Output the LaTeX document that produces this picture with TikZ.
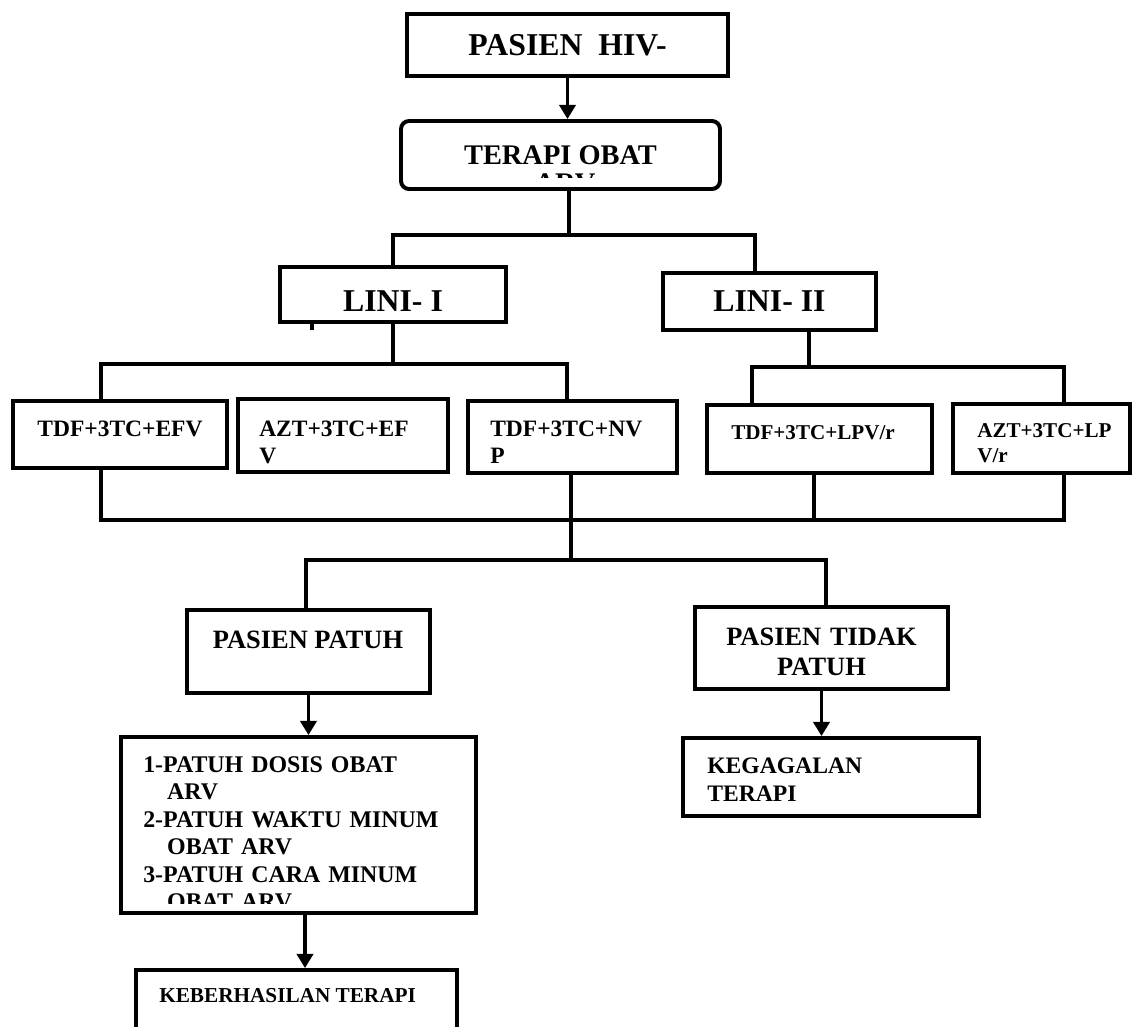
\documentclass[tikz,border=0pt]{standalone}
\usepackage{fontspec}
\setmainfont{Liberation Serif}
\usetikzlibrary{positioning, arrows.meta}
\newcommand{\pxl}{0.025cm}

\begin{document}
\begin{tikzpicture}[
    x=0.025cm, y=-0.025cm,
    box/.style={rectangle, draw=black, line width=2.8pt, inner sep=0pt},
    conn/.style={line width=2.3pt},
    arrow/.style={-{Triangle[length=10pt, width=11.5pt]}, line width=2.3pt},
    headfont/.style={font=\fontsize{22.6}{27}\selectfont\bfseries},
    obatfont/.style={font=\fontsize{20.2}{21.5}\selectfont\bfseries},
    drugfont/.style={font=\fontsize{16.7}{19.2}\selectfont\bfseries},
    smallfont/.style={font=\fontsize{15}{18.1}\selectfont\bfseries},
    patuhfont/.style={font=\fontsize{18.8}{22}\selectfont\bfseries},
    itemfont/.style={font=\fontsize{17}{19.6}\selectfont\bfseries},
    gagalfont/.style={font=\fontsize{16.8}{20.6}\selectfont\bfseries},
    hasilfont/.style={font=\fontsize{15.1}{18}\selectfont\bfseries}
]

    \useasboundingbox (0,0) rectangle (1133,1027);
    \clip (0,0) rectangle (1133,1027);

    % Top
    \node[box, headfont, minimum width=321*\pxl, minimum height=62*\pxl] (hiv) at (567.5,45) {PASIEN\ \ HIV-};
    \node[box, obatfont, rounded corners=5.7pt, minimum width=319*\pxl, minimum height=68*\pxl] (terapi) at (560.5,155) {TERAPI OBAT};
    \begin{scope}
        \clip (402,166) rectangle (719,177.5);
        \node[obatfont, inner sep=0pt, anchor=base] (arv) at (565,192) {ARV};
    \end{scope}

    % Lini
    \node[box, minimum width=226*\pxl, minimum height=55*\pxl] (lini1) at (393,294.5) {};
    \node[headfont, inner sep=0pt, anchor=base] (lini1t) at (393,311) {LINI- I};
    \node[box, headfont, minimum width=213*\pxl, minimum height=57*\pxl] (lini2) at (769.5,301.5) {LINI- II};

    % Regimens
    \node[box, minimum width=214*\pxl, minimum height=67*\pxl] (efv1) at (120,434.5) {};
    \node[drugfont, inner sep=0pt, anchor=base] (efv1t) at (120,436) {TDF+3TC+EFV};
    \node[box, minimum width=210*\pxl, minimum height=73*\pxl] (efv2) at (343,435.5) {};
    \node[drugfont, inner sep=0pt, anchor=base west, text width=180*\pxl, align=left] (efv2t) at (259,436) {AZT+3TC+EF\\V};
    \node[box, minimum width=209*\pxl, minimum height=72*\pxl] (nvp) at (572.5,437) {};
    \node[drugfont, inner sep=0pt, anchor=base west, text width=180*\pxl, align=left] (nvpt) at (490,436) {TDF+3TC+NV\\P};
    \node[box, minimum width=225*\pxl, minimum height=68*\pxl] (lpv1) at (819.5,439) {};
    \node[smallfont, inner sep=0pt, anchor=base west] (lpv1t) at (731,439) {TDF+3TC+LPV/r};
    \node[box, minimum width=177*\pxl, minimum height=69*\pxl] (lpv2) at (1041.5,438.5) {};
    \node[smallfont, inner sep=0pt, anchor=base west, text width=150*\pxl, align=left] (lpv2t) at (977,437) {AZT+3TC+LP\\V/r};

    % Kepatuhan
    \node[box, minimum width=243*\pxl, minimum height=83*\pxl] (patuh) at (308.5,651.5) {};
    \node[patuhfont, inner sep=0pt, anchor=base] (patuht) at (308,648) {PASIEN PATUH};
    \node[box, minimum width=253*\pxl, minimum height=82*\pxl] (tdkpatuh) at (821.5,648) {};
    \node[patuhfont, inner sep=0pt, anchor=base, text width=240*\pxl, align=center] (tdkpatuht) at (821.5,645) {PASIEN TIDAK\\PATUH};

    % Hasil
    \node[box, minimum width=355*\pxl, minimum height=176*\pxl] (list) at (298.5,825) {};
    \begin{scope}
        \clip (123,739) rectangle (474,903);
        \node[itemfont, inner sep=0pt, anchor=base west, text width=325*\pxl, align=left] (listt) at (143,772)
            {1-PATUH DOSIS OBAT\\\hspace*{17pt}ARV\\2-PATUH WAKTU MINUM\\\hspace*{17pt}OBAT ARV\\3-PATUH CARA MINUM\\\hspace*{17pt}OBAT ARV};
    \end{scope}
    \node[box, minimum width=296*\pxl, minimum height=78*\pxl] (gagal) at (831,777) {};
    \node[gagalfont, inner sep=0pt, anchor=base west, text width=250*\pxl, align=left] (gagalt) at (707,773) {KEGAGALAN\\TERAPI};
    \node[box, minimum width=321*\pxl, minimum height=100*\pxl] (hasil) at (296.5,1020) {};
    \node[hasilfont, inner sep=0pt, anchor=base west] (hasilt) at (159,1002) {KEBERHASILAN TERAPI};

    % Connectors
    \draw[arrow] (hiv.south) -- (hiv.south |- terapi.north);

    \coordinate (bus1) at (569,235);
    \coordinate (bus1r) at (755,235);
    \draw[conn] (terapi.south -| bus1) -- (bus1);
    \draw[conn] (lini1.north) |- (bus1r) -- (bus1r |- lini2.north);

    \coordinate (bus2) at (101,364);
    \coordinate (bus2r) at (567,364);
    \coordinate (stub) at (312,330);
    \draw[conn] (lini1.south) -- (lini1.south |- bus2);
    \draw[conn] (efv1.north -| bus2) |- (bus2r) -- (bus2r |- nvp.north);
    \draw[conn] (lini1.south -| stub) -- (stub);

    \coordinate (bus3) at (809,367);
    \coordinate (bus3l) at (752,367);
    \coordinate (bus3r) at (1064,367);
    \draw[conn] (lini2.south -| bus3) -- (bus3);
    \draw[conn] (lpv1.north -| bus3l) |- (bus3r) -- (bus3r |- lpv2.north);

    \coordinate (bus4) at (101,520);
    \coordinate (bus4m) at (814,520);
    \coordinate (bus4r) at (1064,520);
    \draw[conn] (efv1.south -| bus4) |- (bus4r) -- (bus4r |- lpv2.south);
    \draw[conn] (lpv1.south -| bus4m) -- (bus4m);

    \coordinate (bus5) at (571,560);
    \coordinate (bus5l) at (306,560);
    \coordinate (bus5r) at (826,560);
    \draw[conn] (nvp.south -| bus5) -- (bus5);
    \draw[conn] (patuh.north -| bus5l) |- (bus5r) -- (bus5r |- tdkpatuh.north);

    \draw[arrow] (patuh.south) -- (patuh.south |- list.north);
    \draw[arrow] (tdkpatuh.south) -- (tdkpatuh.south |- gagal.north);
    \coordinate (down) at (305,913);
    \draw[arrow] (list.south -| down) -- (down |- hasil.north);

\end{tikzpicture}
\end{document}
